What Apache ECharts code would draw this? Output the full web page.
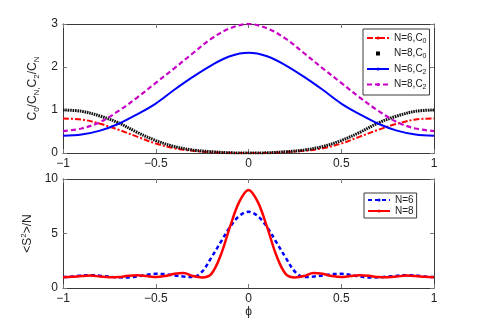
<!DOCTYPE html>
<html>
<head>
<meta charset="utf-8">
<script src="https://cdn.jsdelivr.net/npm/echarts@6/dist/echarts.min.js"></script>
<style>
  html, body { margin: 0; padding: 0; background: #fff; }
  #chart { width: 480px; height: 327px; }
</style>
</head>
<body>
<div id="chart"></div>
<script>
// top panel: C0/CN and C2/CN vs phi
const phiTop = [-1, -0.9, -0.8, -0.7, -0.6, -0.5, -0.4, -0.3, -0.2, -0.1, 0, 0.1, 0.2, 0.3, 0.4, 0.5, 0.6, 0.7, 0.8, 0.9, 1]
const c0N6 = [0.80, 0.78, 0.68, 0.54, 0.38, 0.22, 0.11, 0.05, 0.02, 0.005, 0, 0.005, 0.02, 0.05, 0.11, 0.22, 0.38, 0.54, 0.68, 0.78, 0.80]
const c0N8 = [1.00, 0.97, 0.86, 0.70, 0.48, 0.29, 0.15, 0.07, 0.03, 0.005, 0, 0.005, 0.03, 0.07, 0.15, 0.29, 0.48, 0.70, 0.86, 0.97, 1.00]
const c2N6 = [0.40, 0.43, 0.52, 0.68, 0.90, 1.15, 1.47, 1.77, 2.04, 2.25, 2.33, 2.25, 2.04, 1.77, 1.47, 1.15, 0.90, 0.68, 0.52, 0.43, 0.40]
const c2N8 = [0.51, 0.57, 0.72, 0.98, 1.29, 1.63, 1.97, 2.32, 2.66, 2.90, 3.00, 2.90, 2.66, 2.32, 1.97, 1.63, 1.29, 0.98, 0.72, 0.57, 0.51]

// bottom panel: <S^2>/N vs phi
const phiBot = [-1, -0.95, -0.9, -0.85, -0.8, -0.75, -0.7, -0.65, -0.6, -0.55, -0.5, -0.45, -0.4, -0.35, -0.3, -0.25, -0.2, -0.15, -0.1, -0.05,
    0, 0.05, 0.1, 0.15, 0.2, 0.25, 0.3, 0.35, 0.4, 0.45, 0.5, 0.55, 0.6, 0.65, 0.7, 0.75, 0.8, 0.85, 0.9, 0.95, 1]
const s2N6 = [1.0, 1.05, 1.15, 1.18, 1.12, 1.04, 0.98, 0.97, 1.06, 1.2, 1.3, 1.27, 1.15, 1.05, 1.0, 1.5, 2.8, 4.2, 5.6, 6.6,
    7.0, 6.6, 5.6, 4.2, 2.8, 1.5, 1.0, 1.05, 1.15, 1.27, 1.3, 1.2, 1.06, 0.97, 0.98, 1.04, 1.12, 1.18, 1.15, 1.05, 1.0]
const s2N8 = [0.98, 1.03, 1.1, 1.14, 1.05, 0.98, 1.0, 1.12, 1.18, 1.1, 1.0, 1.1, 1.3, 1.38, 1.1, 0.97, 1.3, 3.0, 5.6, 7.9,
    9.0, 7.9, 5.6, 3.0, 1.3, 0.97, 1.1, 1.38, 1.3, 1.1, 1.0, 1.1, 1.18, 1.12, 1.0, 0.98, 1.05, 1.14, 1.1, 1.03, 0.98]

const font = '"Liberation Sans", Arial, sans-serif'
const ink = '#222'
const frame = '#3a3a3a'

const pairs = (xs, ys) => xs.map((x, i) => [x, ys[i]])
const fmtX = (v) => (v < 0 ? '\u2212' + Math.abs(v) : String(v))

const legendNames = {
    'N=6,C0': '{t|N=6,C}{s|0}',
    'N=8,C0': '{t|N=8,C}{s|0}',
    'N=6,C2': '{t|N=6,C}{s|2}',
    'N=8,C2': '{t|N=8,C}{s|2}',
    'N=6': '{t|N=6}',
    'N=8': '{t|N=8}',
}
const legendRich = {
    t: { fontFamily: font, fontSize: 10, color: ink, lineHeight: 13 },
    s: { fontFamily: font, fontSize: 7, color: ink, lineHeight: 13, verticalAlign: 'bottom' },
}

const baseX = (gridIndex, show) => ({
    type: 'value',
    gridIndex,
    min: -1,
    max: 1,
    interval: 0.5,
    position: show ? 'bottom' : 'top',
    axisLine: { show: true, onZero: false, lineStyle: { color: frame, width: 1 } },
    axisTick: { show: true, inside: true, length: 4, lineStyle: { color: '#777' } },
    axisLabel: { show: show, fontFamily: font, fontSize: 12, color: ink, margin: 5, formatter: fmtX },
    splitLine: { show: false },
})

const baseY = (gridIndex, show, max, interval) => ({
    type: 'value',
    gridIndex,
    min: 0,
    max,
    interval,
    position: show ? 'left' : 'right',
    axisLine: { show: true, onZero: false, lineStyle: { color: frame, width: 1 } },
    axisTick: { show: true, inside: true, length: 4, lineStyle: { color: '#777' } },
    axisLabel: { show: show, fontFamily: font, fontSize: 12, color: ink, margin: 5 },
    splitLine: { show: false },
})

const line = (name, xi, yi, data, color, width, type) => ({
    name,
    type: 'line',
    xAxisIndex: xi,
    yAxisIndex: yi,
    data,
    smooth: 0.35,
    showSymbol: false,
    symbol: 'none',
    animation: false,
    lineStyle: { color, width, type },
    itemStyle: { color },
})

const yTop = baseY(0, true, 3, 1)
yTop.name = '{a|C}{s|0}{a|/C}{s|N,}{a|C}{s|2}{a|/C}{s|N}'
yTop.nameLocation = 'middle'
yTop.nameGap = 15
yTop.nameTextStyle = {
    rich: {
        a: { fontFamily: font, fontSize: 12, color: ink, lineHeight: 16 },
        s: { fontFamily: font, fontSize: 8, color: ink, lineHeight: 16, verticalAlign: 'bottom' },
    },
}

const yBot = baseY(1, true, 10, 5)
yBot.name = '{a|<S}{p|2}{a|>/N}'
yBot.nameLocation = 'middle'
yBot.nameGap = 16
yBot.nameTextStyle = {
    rich: {
        a: { fontFamily: font, fontSize: 12, color: ink, lineHeight: 16 },
        p: { fontFamily: font, fontSize: 8, color: ink, lineHeight: 16, verticalAlign: 'top' },
    },
}

const xBot = baseX(1, true)
xBot.name = '\u03d5'
xBot.nameLocation = 'middle'
xBot.nameGap = 16
xBot.nameTextStyle = { fontFamily: font, fontSize: 12, color: ink }

const chart = echarts.init(document.getElementById('chart'), null, { renderer: 'canvas' })

chart.setOption({
    backgroundColor: '#fff',
    animation: false,
    grid: [
        { left: 63, top: 24, width: 371, height: 129 },
        { left: 63, top: 179, width: 371, height: 109 },
    ],
    xAxis: [baseX(0, true), xBot, baseX(0, false), baseX(1, false)],
    yAxis: [yTop, yBot, baseY(0, false, 3, 1), baseY(1, false, 10, 5)],
    legend: [
        {
            data: [
                { name: 'N=6,C0' },
                { name: 'N=8,C0', icon: 'path://M0,0h1v1h-1z', itemStyle: { color: '#000' } },
                { name: 'N=6,C2' },
                { name: 'N=8,C2' },
            ],
            orient: 'vertical',
            left: 363,
            top: 29,
            itemWidth: 22,
            itemHeight: 4,
            itemGap: 4,
            symbolKeepAspect: true,
            padding: [4, 3, 4, 3],
            borderColor: frame,
            borderWidth: 1,
            backgroundColor: '#fff',
            selectedMode: false,
            formatter: (n) => legendNames[n],
            textStyle: { rich: legendRich },
        },
        {
            data: ['N=6', 'N=8'],
            orient: 'vertical',
            left: 364,
            top: 193,
            itemWidth: 22,
            itemHeight: 4,
            itemGap: 1,
            padding: [2, 3, 2, 3],
            borderColor: frame,
            borderWidth: 1,
            backgroundColor: '#fff',
            selectedMode: false,
            formatter: (n) => legendNames[n],
            textStyle: { rich: legendRich },
        },
    ],
    series: [
        line('N=6,C0', 0, 0, pairs(phiTop, c0N6), '#ff0000', 2, [6, 2, 2, 2]),
        line('N=8,C0', 0, 0, pairs(phiTop, c0N8), '#111111', 3, [1.6, 0.8]),
        line('N=6,C2', 0, 0, pairs(phiTop, c2N6), '#0000ff', 2, 'solid'),
        line('N=8,C2', 0, 0, pairs(phiTop, c2N8), '#c800c8', 2.2, [5, 3]),
        line('N=6', 1, 1, pairs(phiBot, s2N6), '#0000ff', 2.5, [4, 3]),
        line('N=8', 1, 1, pairs(phiBot, s2N8), '#ff0000', 2.5, 'solid'),
    ],
})
</script>
</body>
</html>
